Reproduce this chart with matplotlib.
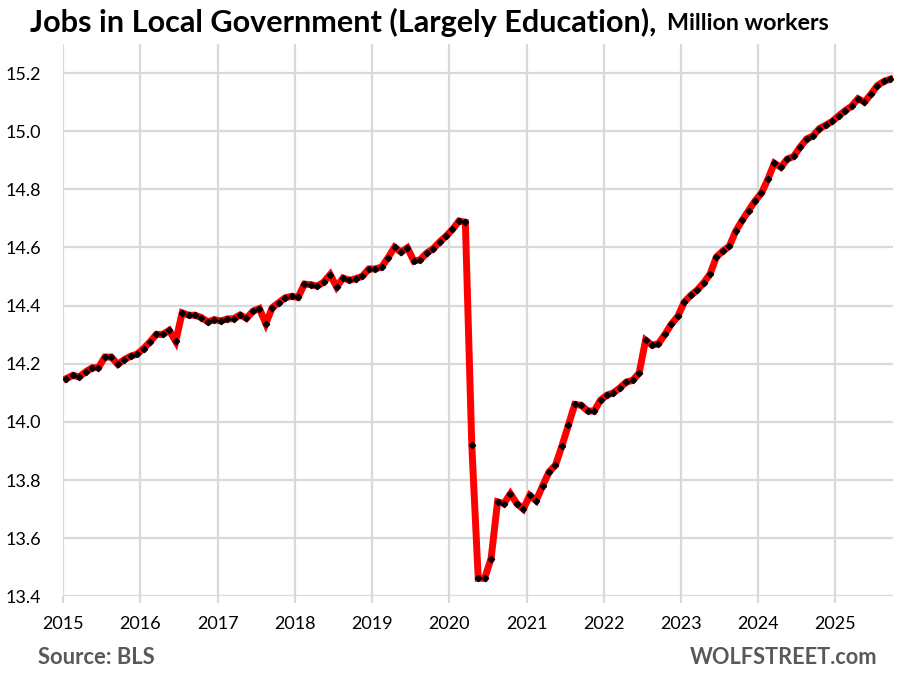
import matplotlib
matplotlib.use("Agg")
import matplotlib.pyplot as plt
import numpy as np

# monthly jobs in local government, million workers, Jan 2015 - Sep 2025
jobs = [
    14.149, 14.160, 14.155, 14.172, 14.186, 14.187, 14.223, 14.223, 14.198, 14.214, 14.226, 14.233,  # 2015
    14.252, 14.275, 14.301, 14.301, 14.315, 14.277, 14.375, 14.367, 14.367, 14.359, 14.344, 14.352,  # 2016
    14.347, 14.354, 14.355, 14.368, 14.356, 14.381, 14.390, 14.338, 14.393, 14.410, 14.427, 14.432,  # 2017
    14.428, 14.474, 14.472, 14.467, 14.481, 14.507, 14.464, 14.495, 14.487, 14.493, 14.501, 14.526,  # 2018
    14.526, 14.533, 14.565, 14.601, 14.584, 14.599, 14.553, 14.558, 14.581, 14.596, 14.619, 14.639,  # 2019
    14.662, 14.691, 14.687, 13.920, 13.462, 13.462, 13.530, 13.725, 13.719, 13.753, 13.719, 13.700,  # 2020
    13.747, 13.729, 13.780, 13.828, 13.851, 13.917, 13.989, 14.060, 14.057, 14.038, 14.037, 14.075,  # 2021
    14.092, 14.100, 14.117, 14.137, 14.143, 14.168, 14.281, 14.264, 14.269, 14.301, 14.336, 14.363,  # 2022
    14.412, 14.435, 14.453, 14.478, 14.508, 14.567, 14.588, 14.604, 14.656, 14.693, 14.727, 14.760,  # 2023
    14.787, 14.835, 14.890, 14.876, 14.904, 14.913, 14.945, 14.973, 14.984, 15.009, 15.021, 15.034,  # 2024
    15.053, 15.071, 15.086, 15.112, 15.100, 15.127, 15.157, 15.171, 15.179,                          # 2025
]
start_year = 2015
year_ticks = list(range(2015, 2026))
y_ticks = [13.4, 13.6, 13.8, 14.0, 14.2, 14.4, 14.6, 14.8, 15.0, 15.2]

# mid-month position in fractional years
months = start_year + (np.arange(len(jobs)) + 0.5) / 12

plt.rcParams["font.family"] = ["Lato", "DejaVu Sans"]
grid_col = "#d9d9d9"
foot_col = "#595959"

fig = plt.figure(figsize=(9.15, 6.79), dpi=100)
ax = fig.add_axes([0.0689, 0.1218, 0.9075, 0.8134])

ax.plot(months, jobs, color="red", lw=5, solid_joinstyle="miter", zorder=3)
ax.plot(months, jobs, ls="none", marker="D", ms=3.2, color="black", zorder=4)

ax.set_xlim(start_year, start_year + len(jobs) / 12)
ax.set_ylim(13.4, 15.3)
ax.set_xticks(year_ticks)
ax.set_xticklabels([str(y) for y in year_ticks], fontsize=13)
ax.set_yticks(y_ticks)
ax.set_yticklabels([f"{v:.1f}" for v in y_ticks], fontsize=13)
ax.grid(True, color=grid_col, lw=1.6, zorder=0)
ax.set_axisbelow(True)
for s in ax.spines.values():
    s.set_visible(False)
ax.tick_params(axis="x", length=5, width=1.6, color=grid_col, pad=9)
ax.tick_params(axis="y", length=0, pad=16)

renderer = fig.canvas.get_renderer()


def fit(t, width_px):
    # scale the font so the text spans about width_px pixels
    w = t.get_window_extent(renderer).width
    t.set_fontsize(t.get_fontsize() * width_px / w)
    return t


W, H = fig.bbox.width, fig.bbox.height
title = fit(fig.text(30 / W, 1 - 22 / H, "Jobs in Local Government (Largely Education),",
                     fontsize=22, fontweight="bold", va="center", ha="left"), 625)
sub = fit(fig.text(667 / W, 1 - 24 / H, "Million workers", fontsize=15,
                   fontweight="bold", va="center", ha="left"), 163)
fit(fig.text(38 / W, 1 - 657 / H, "Source: BLS", fontsize=15, fontweight="bold",
             color=foot_col, va="center", ha="left"), 117)
fit(fig.text(877 / W, 1 - 657 / H, "WOLFSTREET.com", fontsize=15, fontweight="bold",
             color=foot_col, va="center", ha="right"), 187)

fig.savefig("out.png", dpi=100)
